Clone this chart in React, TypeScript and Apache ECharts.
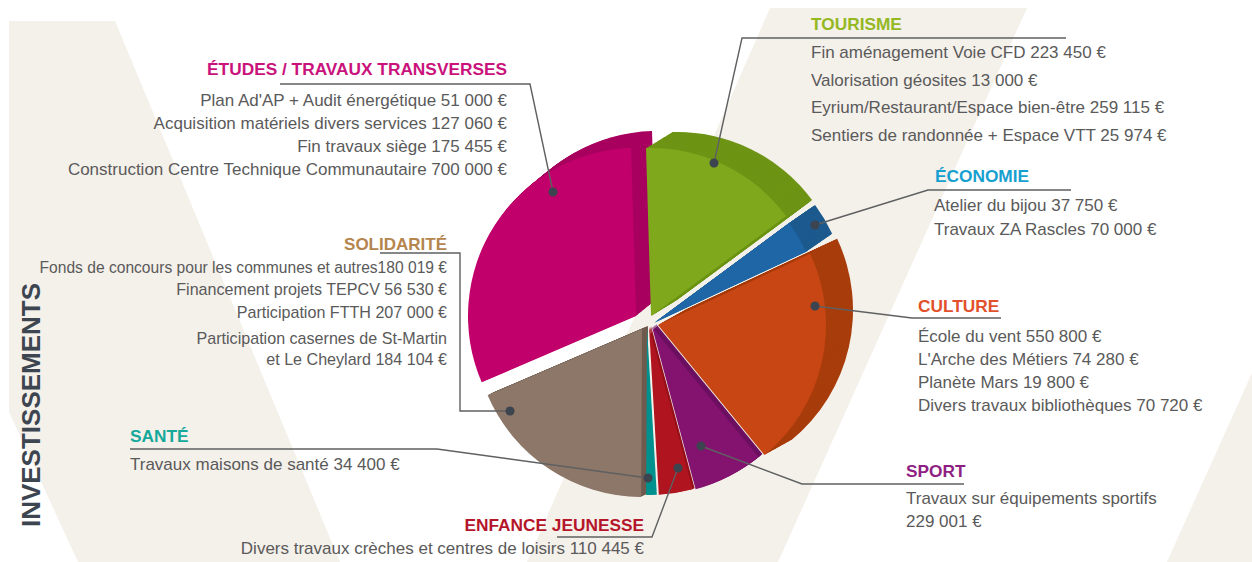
import React, { useEffect, useRef } from "react";
import * as echarts from "echarts";

const categories = ["TOURISME", "ÉCONOMIE", "CULTURE", "SPORT", "ENFANCE JEUNESSE", "SANTÉ", "SOLIDARITÉ", "ÉTUDES / TRAVAUX TRANSVERSES"];
const tourisme = [223450, 13000, 259115, 25974];
const economie = [37750, 70000];
const culture = [550800, 74280, 19800, 70720];
const sport = [229001];
const enfance = [110445];
const sante = [34400];
const solidarite = [180019, 56530, 207000, 184104];
const etudes = [51000, 127060, 175455, 700000];
const sum = (a: number[]) => a.reduce((s, v) => s + v, 0);
const values = [tourisme, economie, culture, sport, enfance, sante, solidarite, etudes].map(sum);

const tourismeLines = ["Fin aménagement Voie CFD 223 450 €", "Valorisation géosites 13 000 €", "Eyrium/Restaurant/Espace bien-être 259 115 €", "Sentiers de randonnée + Espace VTT 25 974 €"];
const economieLines = ["Atelier du bijou 37 750 €", "Travaux ZA Rascles 70 000 €"];
const cultureLines = ["École du vent 550 800 €", "L'Arche des Métiers 74 280 €", "Planète Mars 19 800 €", "Divers travaux bibliothèques 70 720 €"];
const sportLines = ["Travaux sur équipements sportifs", "229 001 €"];
const enfanceLines = ["Divers travaux crèches et centres de loisirs 110 445 €"];
const santeLines = ["Travaux maisons de santé 34 400 €"];
const solidariteLead = ["Fonds de concours pour les communes et autres180 019 €"];
const solidariteLines = ["Financement projets TEPCV 56 530 €", "Participation FTTH 207 000 €", "Participation casernes de St-Martin", "et Le Cheylard 184 104 €"];
const etudesLines = ["Plan Ad'AP + Audit énergétique 51 000 €", "Acquisition matériels divers services 127 060 €", "Fin travaux siège 175 455 €", "Construction Centre Technique Communautaire 700 000 €"];

// index into categories, face / side colours, face centre, side offset
const sectors = [
  { i: 7, face: "#c2006b", side: "#a8005f", c: [636, 316], d: [21, -17] },
  { i: 6, face: "#8d7768", side: "#6f5b4e", c: [642, 329], d: [6, -3] },
  { i: 5, face: "#00918f", side: "#007f7d", c: [647, 327], d: [0, 0] },
  { i: 4, face: "#b0141e", side: "#96101a", c: [649, 327], d: [2, -1] },
  { i: 3, face: "#84126f", side: "#6c0f60", c: [652, 327], d: [4, -3] },
  { i: 1, face: "#1f66a6", side: "#1c5a8e", c: [654, 323], d: [26, -18] },
  { i: 0, face: "#7fa81c", side: "#6e9415", c: [651, 316], d: [26, -16] },
  { i: 2, face: "#c84613", side: "#a83d0c", c: [658, 325], d: [27, -15] },
];

const GREY = "#5a5a5a";
const FONT = "'Liberation Sans', Arial, sans-serif";
const R = 168;
const START = 91.7;

function pie(i: number, color: string, cx: number, cy: number) {
  return {
    type: "pie",
    silent: true,
    clockwise: true,
    startAngle: START,
    center: [cx, cy],
    radius: [0, R],
    label: { show: false },
    labelLine: { show: false },
    emphasis: { disabled: true },
    data: values.map((v, k) => ({
      value: v,
      name: categories[k],
      itemStyle: k === i ? { color } : { color: "rgba(0,0,0,0)" },
    })),
  };
}

function block(lines: string[], x: number, ys: number[], align: string, size = 17) {
  return lines.map((t, k) => ({
    type: "text",
    x,
    y: ys[k],
    z: 20,
    style: { text: t, fill: GREY, font: `${size}px ${FONT}`, align, verticalAlign: "middle" },
  }));
}

function title(k: number, x: number, y: number, align: string, fill: string, size = 17.3) {
  return {
    type: "text",
    x,
    y,
    z: 20,
    style: { text: categories[k], fill, font: `bold ${size}px ${FONT}`, align, verticalAlign: "middle" },
  };
}

function leader(points: number[][], dot?: number[]) {
  const out: any[] = [
    { type: "polyline", z: 18, shape: { points }, style: { stroke: "#5f6062", lineWidth: 1.4, fill: "none" } },
  ];
  const p = dot || points[points.length - 1];
  out.push({ type: "circle", z: 19, shape: { cx: p[0], cy: p[1], r: 4.5 }, style: { fill: "#3c4450" } });
  return out;
}

const beige = "#f4f0ea";

export default function App() {
  const ref = useRef<HTMLDivElement>(null);
  useEffect(() => {
    document.body.style.margin = "0";
    const chart = echarts.init(ref.current!, null, { renderer: "svg" });
    const series: any[] = [];
    for (const s of sectors) {
      const n = Math.ceil(Math.max(Math.abs(s.d[0]), Math.abs(s.d[1])));
      for (let k = n; k >= 1; k--) {
        series.push(pie(s.i, s.side, s.c[0] + (s.d[0] * k) / n, s.c[1] + (s.d[1] * k) / n));
      }
      series.push(pie(s.i, s.face, s.c[0], s.c[1]));
    }
    const backgrounds = [
      [[9, 21], [115, 21], [340, 562], [78, 562], [9, 412]],
      [[770, 8], [1027, 8], [778, 562], [527, 562]],
      [[1167, 562], [1252, 373], [1252, 562]],
    ].map((points) => ({ type: "polygon", z: -10, silent: true, shape: { points }, style: { fill: beige } }));
    chart.setOption({
      animation: false,
      backgroundColor: "#ffffff",
      series,
      graphic: {
        elements: [
          ...backgrounds,
          title(7, 507, 69, "right", "#c9127b"),
          ...block(etudesLines, 507, [100, 123, 146, 169], "right"),
          ...leader([[280, 84], [530, 84], [553, 192]]),

          title(6, 447, 244, "right", "#b5854e", 17),
          ...block(solidariteLead, 447, [267], "right", 15.6),
          ...block(solidariteLines, 447, [289, 312, 338, 359], "right", 16.1),
          ...leader([[380, 253], [460, 253], [460, 411], [510, 411]]),

          title(5, 130, 436, "left", "#14a99a"),
          ...block(santeLines, 130, [464], "left"),
          ...leader([[130, 449], [437, 449], [648, 478]]),

          title(4, 644, 525, "right", "#b5162a"),
          ...block(enfanceLines, 644, [548], "right"),
          ...leader([[557, 537], [652, 537], [678, 468]]),

          title(0, 811, 24, "left", "#94b81f"),
          ...block(tourismeLines, 811, [52, 80, 107, 135], "left"),
          ...leader([[1066, 38], [742, 38], [714, 163]]),

          title(1, 935, 176, "left", "#16a0cf"),
          ...block(economieLines, 934, [205, 229], "left"),
          ...leader([[1071, 190], [928, 190], [815, 225]]),

          title(2, 918, 306, "left", "#e2502c"),
          ...block(cultureLines, 918, [336, 359, 382, 405], "left"),
          ...leader([[1001, 318], [912, 318], [815, 306]]),

          title(3, 906, 471, "left", "#8f1f82"),
          ...block(sportLines, 906, [498, 521], "left"),
          ...leader([[964, 484], [802, 484], [701, 446]]),

          {
            type: "text",
            x: 31,
            y: 405,
            rotation: Math.PI / 2,
            z: 20,
            style: { text: "INVESTISSEMENTS", fill: "#3d4650", font: `bold 26px ${FONT}`, align: "center", verticalAlign: "middle" },
          },
        ],
      },
    });
    return () => chart.dispose();
  }, []);
  return <div ref={ref} style={{ position: "absolute", left: 0, top: 0, width: 1252, height: 562 }} />;
}
